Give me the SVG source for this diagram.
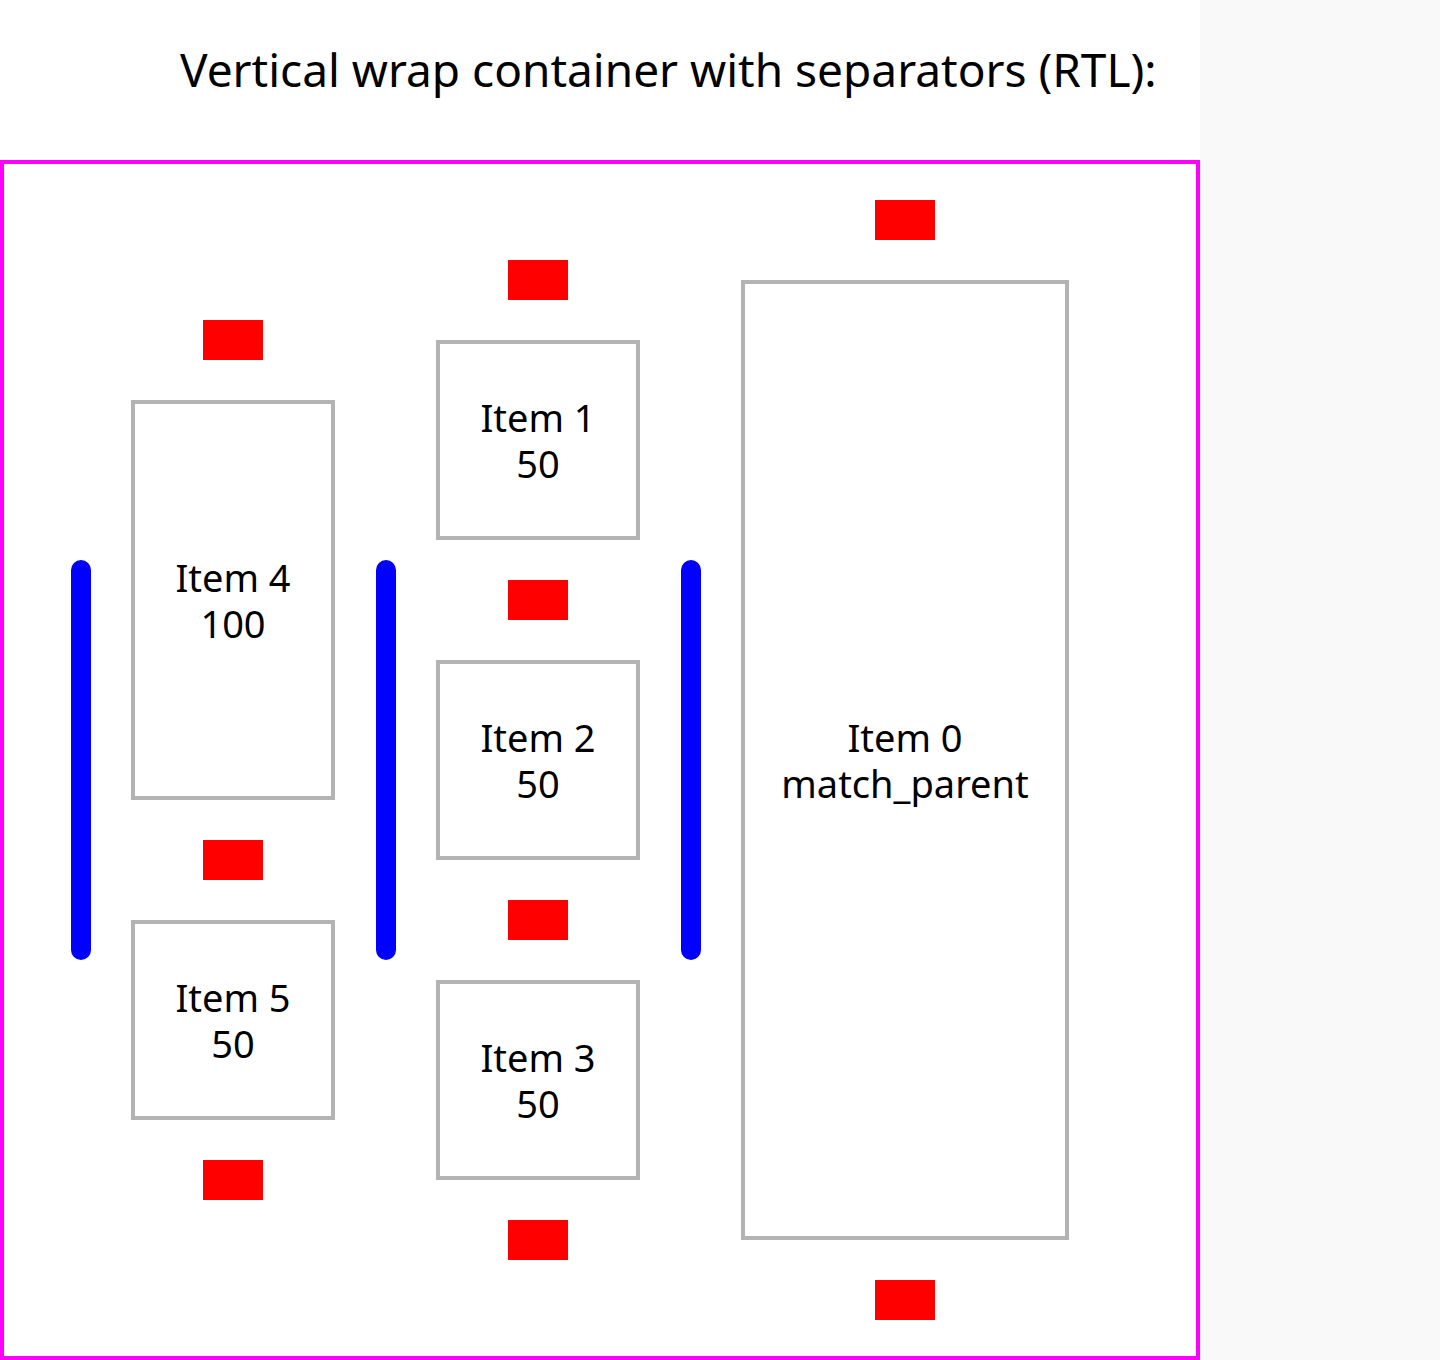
<svg xmlns="http://www.w3.org/2000/svg" width="1440" height="1360" viewBox="0 0 1440 1360">
<style>
.box{fill:#fff;stroke:#b3b3b3;stroke-width:4}
.red{fill:#ff0000}
.sep{stroke:#0000ff;stroke-width:20;stroke-linecap:round}
text{font-family:"Noto Sans","Open Sans",sans-serif;fill:#000}
.lbl{font-size:38px;text-anchor:middle}
.title{font-size:46px}
</style>
<rect x="0" y="0" width="1440" height="1360" fill="#f9f9f9"/>
<rect x="0" y="0" width="1200" height="1360" fill="#ffffff"/>
<text class="title" x="180" y="87">Vertical wrap container with separators (RTL):</text>
<rect x="2" y="162" width="1196" height="1196" fill="none" stroke="#ff00ff" stroke-width="4"/>
<g id="connectors">
<line class="sep" x1="81" y1="570" x2="81" y2="950"/>
<line class="sep" x1="386" y1="570" x2="386" y2="950"/>
<line class="sep" x1="691" y1="570" x2="691" y2="950"/>
</g>
<g id="item0">
<rect class="red" x="875" y="200" width="60" height="40"/>
<rect class="box" x="743" y="282" width="324" height="956"/>
<text class="lbl" x="905" y="752">Item 0</text>
<text class="lbl" x="905" y="798">match_parent</text>
<rect class="red" x="875" y="1280" width="60" height="40"/>
</g>
<g id="item1">
<rect class="red" x="508" y="260" width="60" height="40"/>
<rect class="box" x="438" y="342" width="200" height="196"/>
<text class="lbl" x="538" y="432">Item 1</text>
<text class="lbl" x="538" y="478">50</text>
</g>
<g id="item2">
<rect class="red" x="508" y="580" width="60" height="40"/>
<rect class="box" x="438" y="662" width="200" height="196"/>
<text class="lbl" x="538" y="752">Item 2</text>
<text class="lbl" x="538" y="798">50</text>
</g>
<g id="item3">
<rect class="red" x="508" y="900" width="60" height="40"/>
<rect class="box" x="438" y="982" width="200" height="196"/>
<text class="lbl" x="538" y="1072">Item 3</text>
<text class="lbl" x="538" y="1118">50</text>
<rect class="red" x="508" y="1220" width="60" height="40"/>
</g>
<g id="item4">
<rect class="red" x="203" y="320" width="60" height="40"/>
<rect class="box" x="133" y="402" width="200" height="396"/>
<text class="lbl" x="233" y="592">Item 4</text>
<text class="lbl" x="233" y="638">100</text>
</g>
<g id="item5">
<rect class="red" x="203" y="840" width="60" height="40"/>
<rect class="box" x="133" y="922" width="200" height="196"/>
<text class="lbl" x="233" y="1012">Item 5</text>
<text class="lbl" x="233" y="1058">50</text>
<rect class="red" x="203" y="1160" width="60" height="40"/>
</g>
</svg>
